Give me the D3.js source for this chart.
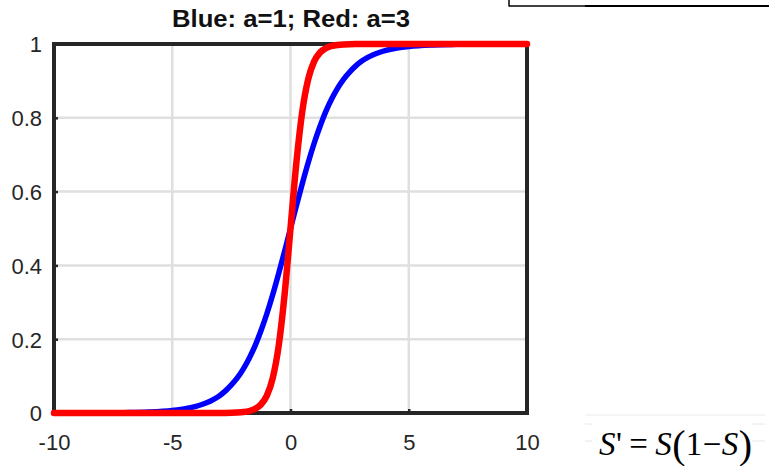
<!DOCTYPE html>
<html><head><meta charset="utf-8">
<script src="https://cdn.jsdelivr.net/npm/d3@7"></script>
<style>body{margin:0;background:#fff}svg{display:block}</style>
</head><body>
<svg id="c" width="769" height="466"></svg>
<script>
const titleText = "Blue: a=1; Red: a=3";
const xTicks = [-10, -5, 0, 5, 10];
const xTickLabels = ["-10", "-5", "0", "5", "10"];
const yTicks = [0, 0.2, 0.4, 0.6, 0.8, 1];
const yTickLabels = ["0", "0.2", "0.4", "0.6", "0.8", "1"];
const xValues = [-10,-9,-8,-7,-6,-5,-4.5,-4,-3.75,-3.5,-3.25,-3,-2.75,-2.5,-2.25,-2,-1.75,-1.5,-1.25,-1,-0.75,-0.5,-0.25,0,
  0.25,0.5,0.75,1,1.25,1.5,1.75,2,2.25,2.5,2.75,3,3.25,3.5,3.75,4,4.5,5,6,7,8,9,10];
const blueValues = [0.0000454,0.000123,0.000335,0.000911,0.00247,0.0067,0.011,0.018,0.023,0.029,0.037,0.047,0.060,0.076,0.095,0.119,0.148,0.182,0.223,0.269,0.321,0.378,0.438,0.5,
  0.562,0.622,0.679,0.731,0.777,0.818,0.852,0.881,0.905,0.924,0.940,0.953,0.963,0.971,0.977,0.982,0.989,0.9933,0.99753,0.999089,0.999665,0.999877,0.9999546];
const redValues = [0,0,0,0,0.0000000,0.0000003,0.0000014,0.000006,0.000013,0.0000275,0.000058,0.000123,0.00026,0.00055,0.00117,0.00247,0.0052,0.011,0.023,0.047,0.095,0.182,0.321,0.5,
  0.679,0.818,0.905,0.953,0.977,0.989,0.9948,0.99753,0.99883,0.99945,0.99974,0.999877,0.999942,0.9999725,0.999987,0.999994,0.9999986,0.9999997,1,1,1,1,1];

const svg = d3.select("#c");
const L = 54, R = 527, T = 44, B = 413;
const x = d3.scaleLinear().domain([-10, 10]).range([L, R]);
const y = d3.scaleLinear().domain([0, 1]).range([B, T]);
const axisColor = "#262626";
const font = "'Liberation Sans', Arial, Helvetica, sans-serif";

// grid
svg.append("g").selectAll("line").data(xTicks.slice(1, -1)).join("line")
  .attr("x1", d => x(d)).attr("x2", d => x(d)).attr("y1", T).attr("y2", B)
  .attr("stroke", "#dfdfdf").attr("stroke-width", 2.5);
svg.append("g").selectAll("line").data(yTicks.slice(1, -1)).join("line")
  .attr("y1", d => y(d)).attr("y2", d => y(d)).attr("x1", L).attr("x2", R)
  .attr("stroke", "#dfdfdf").attr("stroke-width", 2.5);

// axes via d3 axis (ticks inward)
const xAx = svg.append("g").attr("transform", `translate(0,${B})`)
  .call(d3.axisBottom(x).tickValues(xTicks).tickSize(-4).tickPadding(0).tickFormat((d, i) => xTickLabels[i]));
const yAx = svg.append("g").attr("transform", `translate(${L},0)`)
  .call(d3.axisLeft(y).tickValues(yTicks).tickSize(-4).tickPadding(12).tickFormat((d, i) => yTickLabels[i]));
[xAx, yAx].forEach(g => {
  g.select(".domain").remove();
  g.attr("font-size", null).attr("font-family", null);
  g.selectAll(".tick line").attr("stroke", axisColor).attr("stroke-width", 2.5);
  g.selectAll(".tick text").attr("fill", axisColor).style("font-family", font).style("font-size", "22px");
});
xAx.selectAll(".tick text").attr("y", 37).attr("dy", 0);
yAx.selectAll(".tick text").attr("dy", "0.36em");

// box
svg.append("rect").attr("x", L).attr("y", T).attr("width", R - L).attr("height", B - T)
  .attr("fill", "none").attr("stroke", axisColor).attr("stroke-width", 4);

// curves
const pts = (vals) => xValues.map((v, i) => [v, vals[i]]);
const line = d3.line().x(d => x(d[0])).y(d => y(d[1])).curve(d3.curveMonotoneX);
svg.append("path").attr("d", line(pts(blueValues))).attr("fill", "none")
  .attr("stroke", "#0000ff").attr("stroke-width", 5.5).attr("stroke-linecap", "round").attr("stroke-linejoin", "round");
svg.append("path").attr("d", line(pts(redValues))).attr("fill", "none")
  .attr("stroke", "#ff0000").attr("stroke-width", 6.5).attr("stroke-linecap", "round").attr("stroke-linejoin", "round");

// title
svg.append("text").attr("x", 172).attr("y", 27)
  .attr("textLength", 238).attr("lengthAdjust", "spacingAndGlyphs")
  .style("font-family", font).style("font-weight", "bold").style("font-size", "23px")
  .attr("fill", "#111").text(titleText);

// top-right fragment of a box
svg.append("line").attr("x1", 509).attr("x2", 509).attr("y1", 0).attr("y2", 6.5).attr("stroke", "#000").attr("stroke-width", 1.5);
svg.append("line").attr("x1", 509).attr("x2", 585).attr("y1", 6).attr("y2", 6).attr("stroke", "#000").attr("stroke-width", 1.5);
svg.append("line").attr("x1", 585).attr("x2", 769).attr("y1", 6).attr("y2", 6).attr("stroke", "#000").attr("stroke-width", 2);

// formula
const fg = svg.append("g");
fg.append("line").attr("x1", 585).attr("x2", 765).attr("y1", 415).attr("y2", 415).attr("stroke", "#ececec").attr("stroke-width", 1);
[[585, 592, 424], [585, 592, 441], [752, 765, 424], [752, 765, 441]].forEach(s =>
  fg.append("line").attr("x1", s[0]).attr("x2", s[1]).attr("y1", s[2]).attr("y2", s[2]).attr("stroke", "#e6e6e6").attr("stroke-width", 1));
const serif = "'Liberation Serif', 'Times New Roman', serif";
const ft = fg.append("text").attr("x", 599).attr("y", 455)
  .attr("textLength", 153).attr("lengthAdjust", "spacing")
  .style("font-family", serif).style("font-size", "33px").attr("fill", "#000");
ft.append("tspan").style("font-style", "italic").text("S");
ft.append("tspan").text("'\u2009=\u2009");
ft.append("tspan").style("font-style", "italic").text("S");
ft.append("tspan").style("font-size", "40px").attr("dy", 3).text("(");
ft.append("tspan").attr("dy", -3).text("1\u2212");
ft.append("tspan").style("font-style", "italic").text("S");
ft.append("tspan").style("font-size", "40px").attr("dy", 3).text(")");
</script>
</body></html>
